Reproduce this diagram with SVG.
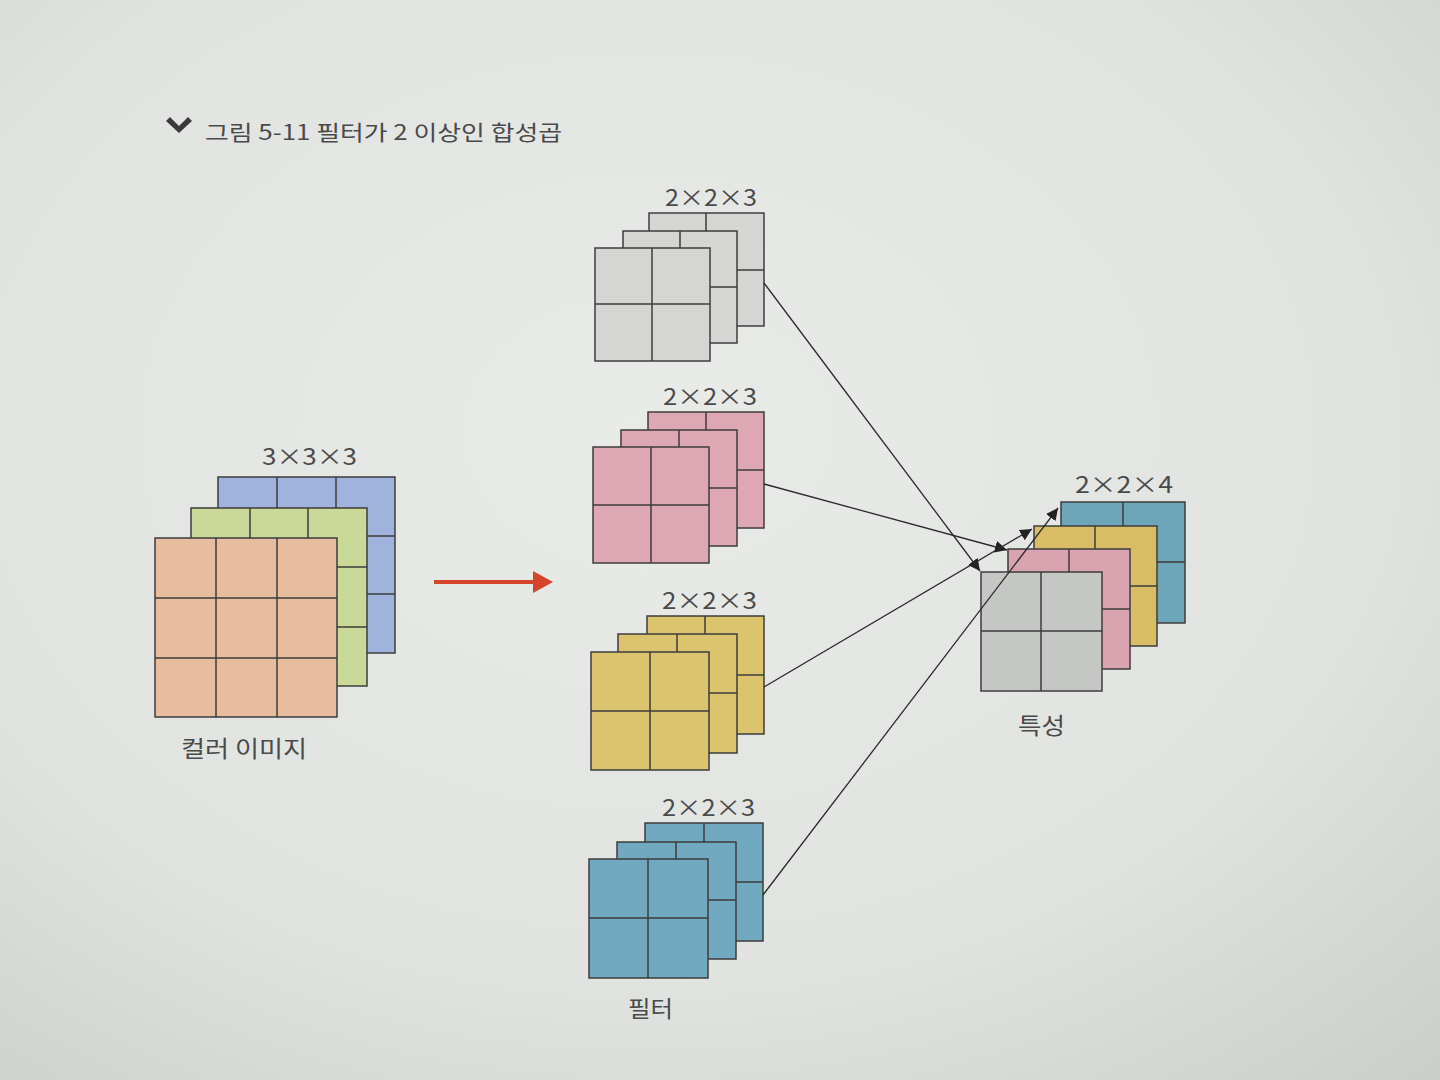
<svg xmlns="http://www.w3.org/2000/svg" width="1440" height="1080" viewBox="0 0 1440 1080">
<defs>
<radialGradient id="bg" cx="0.45" cy="0.4" r="0.85">
<stop offset="0" stop-color="#e9ebe9"/>
<stop offset="0.6" stop-color="#e1e3e1"/>
<stop offset="1" stop-color="#c9cbc8"/>
</radialGradient>
<marker id="ah" viewBox="0 0 10 10" refX="10" refY="5" markerWidth="12" markerHeight="12" markerUnits="userSpaceOnUse" orient="auto">
<path d="M0,0 L10,5 L0,10 z" fill="#222"/>
</marker>
<style>
.pl{stroke:#3d3d3d;stroke-width:1.5}
.gl{stroke:#3d3d3d;stroke-width:1.5;fill:none}
.lbl{font-family:"Noto Sans CJK KR","Liberation Sans",sans-serif;font-size:23px;fill:#4a4a4a}
.kr{font-family:"Noto Sans CJK KR","Noto Sans",sans-serif;font-size:23px;fill:#4a4a4a}
.c-or{fill:#e8bd9f}.c-gr{fill:#cad898}.c-bl{fill:#9fb3dc}
.c-gy{fill:#d5d6d3}.c-pk{fill:#dda7b3}.c-yl{fill:#dcc46f}.c-tl{fill:#71a9c0}
.f-gy{fill:#c5c7c4}.f-pk{fill:#d9a3af}.f-yl{fill:#d8bd66}.f-tl{fill:#6da6b9}
.con{stroke:#2a2a2a;stroke-width:1.3;fill:none;marker-end:url(#ah)}
</style>
</defs>
<rect width="1440" height="1080" fill="url(#bg)"/>

<g id="title">
<path d="M170,117 L179,126 L188,117 L192,121 L179,133 L166,121 z" fill="#3a3a3a"/>
<text x="205" y="140" font-family="Noto Sans CJK KR,sans-serif" font-size="21" fill="#4a4a4a" textLength="357" lengthAdjust="spacingAndGlyphs">그림 5-11  필터가 2 이상인 합성곱</text>
</g>

<g id="color-image">
<rect class="pl c-bl" x="218" y="477" width="177" height="176"/>
<path class="gl" d="M277,477V653M336,477V653M218,536H395M218,594H395"/>
<rect class="pl c-gr" x="191" y="508" width="176" height="178"/>
<path class="gl" d="M250,508V686M308,508V686M191,567H367M191,627H367"/>
<rect class="pl c-or" x="155" y="538" width="182" height="179"/>
<path class="gl" d="M216,538V717M277,538V717M155,598H337M155,658H337"/>
<text class="lbl" x="262" y="465" textLength="95" lengthAdjust="spacingAndGlyphs">3×3×3</text>
<text class="kr" x="181" y="757" textLength="126" lengthAdjust="spacingAndGlyphs">컬러 이미지</text>
</g>

<g id="red-arrow">
<line x1="434" y1="582" x2="536" y2="582" stroke="#d6452b" stroke-width="4"/>
<polygon points="533,571 553,582 533,593" fill="#d6452b"/>
</g>

<g id="filter-gray">
<rect class="pl c-gy" x="649" y="213" width="115" height="113"/>
<path class="gl" d="M706,213V326M649,270H764"/>
<rect class="pl c-gy" x="623" y="231" width="114" height="112"/>
<path class="gl" d="M680,231V343M623,287H737"/>
<rect class="pl c-gy" x="595" y="248" width="115" height="113"/>
<path class="gl" d="M652,248V361M595,304H710"/>
<text class="lbl" x="665" y="206" textLength="92" lengthAdjust="spacingAndGlyphs">2×2×3</text>
</g>

<g id="filter-pink">
<rect class="pl c-pk" x="648" y="412" width="116" height="116"/>
<path class="gl" d="M706,412V528M648,470H764"/>
<rect class="pl c-pk" x="621" y="430" width="116" height="116"/>
<path class="gl" d="M679,430V546M621,488H737"/>
<rect class="pl c-pk" x="593" y="447" width="116" height="116"/>
<path class="gl" d="M651,447V563M593,505H709"/>
<text class="lbl" x="663" y="405" textLength="94" lengthAdjust="spacingAndGlyphs">2×2×3</text>
</g>

<g id="filter-yellow">
<rect class="pl c-yl" x="647" y="616" width="117" height="118"/>
<path class="gl" d="M705,616V734M647,675H764"/>
<rect class="pl c-yl" x="618" y="634" width="119" height="119"/>
<path class="gl" d="M677,634V753M618,693H737"/>
<rect class="pl c-yl" x="591" y="652" width="118" height="118"/>
<path class="gl" d="M650,652V770M591,711H709"/>
<text class="lbl" x="662" y="609" textLength="95" lengthAdjust="spacingAndGlyphs">2×2×3</text>
</g>

<g id="filter-blue">
<rect class="pl c-tl" x="645" y="823" width="118" height="118"/>
<path class="gl" d="M704,823V941M645,882H763"/>
<rect class="pl c-tl" x="617" y="842" width="119" height="117"/>
<path class="gl" d="M676,842V959M617,900H736"/>
<rect class="pl c-tl" x="589" y="859" width="119" height="119"/>
<path class="gl" d="M648,859V978M589,918H708"/>
<text class="lbl" x="662" y="816" textLength="93" lengthAdjust="spacingAndGlyphs">2×2×3</text>
<text class="kr" x="628" y="1017" textLength="45" lengthAdjust="spacingAndGlyphs">필터</text>
</g>

<g id="feature">
<rect class="pl f-tl" x="1061" y="502" width="124" height="121"/>
<path class="gl" d="M1123,502V623M1061,562H1185"/>
<rect class="pl f-yl" x="1034" y="526" width="123" height="120"/>
<path class="gl" d="M1095,526V646M1034,586H1157"/>
<rect class="pl f-pk" x="1008" y="549" width="122" height="120"/>
<path class="gl" d="M1069,549V669M1008,609H1130"/>
<rect class="pl f-gy" x="981" y="572" width="121" height="119"/>
<path class="gl" d="M1041,572V691M981,631H1102"/>
<text class="lbl" x="1075" y="493" textLength="98" lengthAdjust="spacingAndGlyphs">2×2×4</text>
<text class="kr" x="1018" y="734" textLength="47" lengthAdjust="spacingAndGlyphs">특성</text>
</g>

<g id="connectors">
<line class="con" x1="764" y1="283" x2="980" y2="571"/>
<line class="con" x1="764" y1="484" x2="1007" y2="550"/>
<line class="con" x1="764" y1="687" x2="1032" y2="529"/>
<line class="con" x1="763" y1="895" x2="1058" y2="508"/>
</g>
</svg>
